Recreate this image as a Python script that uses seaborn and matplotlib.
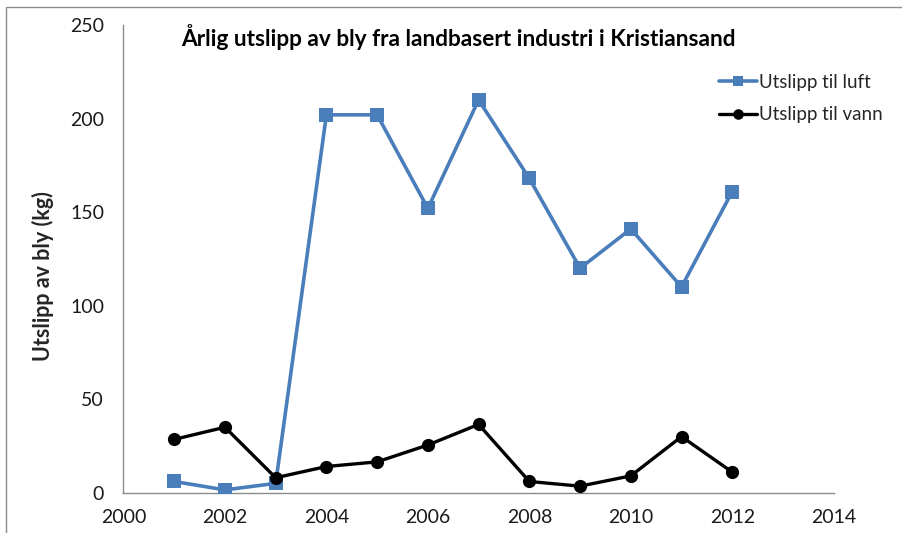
import matplotlib
matplotlib.use("Agg")
import matplotlib.pyplot as plt
from matplotlib.patches import Rectangle
import seaborn as sns
import pandas as pd

years = [2001, 2002, 2003, 2004, 2005, 2006, 2007, 2008, 2009, 2010, 2011, 2012]
luft = [6, 1.5, 5, 202, 202, 152, 210, 168, 120, 141, 110, 161]
vann = [28.5, 35, 8, 14, 16.5, 25.5, 36.5, 6, 3.5, 9, 30, 11]
series_names = ["Utslipp til luft", "Utslipp til vann"]
x_ticks = [2000, 2002, 2004, 2006, 2008, 2010, 2012, 2014]
y_ticks = [0, 50, 100, 150, 200, 250]

title = "Årlig utslipp av bly fra landbasert industri i Kristiansand"
ylabel = "Utslipp av bly (kg)"

sns.set_style("white")
plt.rcParams["font.family"] = ["Lato", "DejaVu Sans"]

fig = plt.figure(figsize=(9.02, 5.33), dpi=100)
ax = fig.add_axes([0.1369, 0.0756, 0.7874, 0.8774])

# chart-area frame
fig.patches.append(Rectangle((6 / 902, -0.1), 1.2, 1 - 7 / 533 + 0.1,
                             transform=fig.transFigure, fill=False,
                             edgecolor="#8c8c8c", linewidth=1.0))

df_l = pd.DataFrame({"year": years, "value": luft})
df_v = pd.DataFrame({"year": years, "value": vann})

sns.lineplot(data=df_l, x="year", y="value", ax=ax, color="#4a7ebb",
             linewidth=2.6, marker="s", markersize=9.5, markeredgewidth=0,
             label=series_names[0], zorder=3)
sns.lineplot(data=df_v, x="year", y="value", ax=ax, color="black",
             linewidth=2.4, marker="o", markersize=9.5, markeredgewidth=0,
             label=series_names[1], zorder=4)

ax.set_xlim(2000, 2014)
ax.set_ylim(0, 250)
ax.set_xticks(x_ticks)
ax.set_yticks(y_ticks)
ax.set_xlabel("")
ax.set_ylabel(ylabel, fontsize=15.5, fontweight="bold")
ax.yaxis.set_label_coords(-0.098, 0.463)

for side in ["top", "right"]:
    ax.spines[side].set_visible(False)
for side in ["left", "bottom"]:
    ax.spines[side].set_color("#8c8c8c")
    ax.spines[side].set_linewidth(1.0)

ax.tick_params(axis="both", which="major", direction="out", length=6,
               width=1.0, color="#8c8c8c", labelsize=14, labelcolor="#1a1a1a")
ax.tick_params(axis="x", pad=6)
ax.tick_params(axis="y", pad=8)

ax.text(0.472, 0.975, title, transform=ax.transAxes, ha="center", va="center",
        fontsize=16.3, fontweight="bold", color="black")

leg = ax.legend(loc="center left", bbox_to_anchor=(0.828, 0.843), frameon=False,
                fontsize=13.5, handlelength=2.0, handletextpad=0.15,
                labelspacing=0.85, borderaxespad=0, markerscale=0.8)

fig.savefig("out.png", dpi=100)
